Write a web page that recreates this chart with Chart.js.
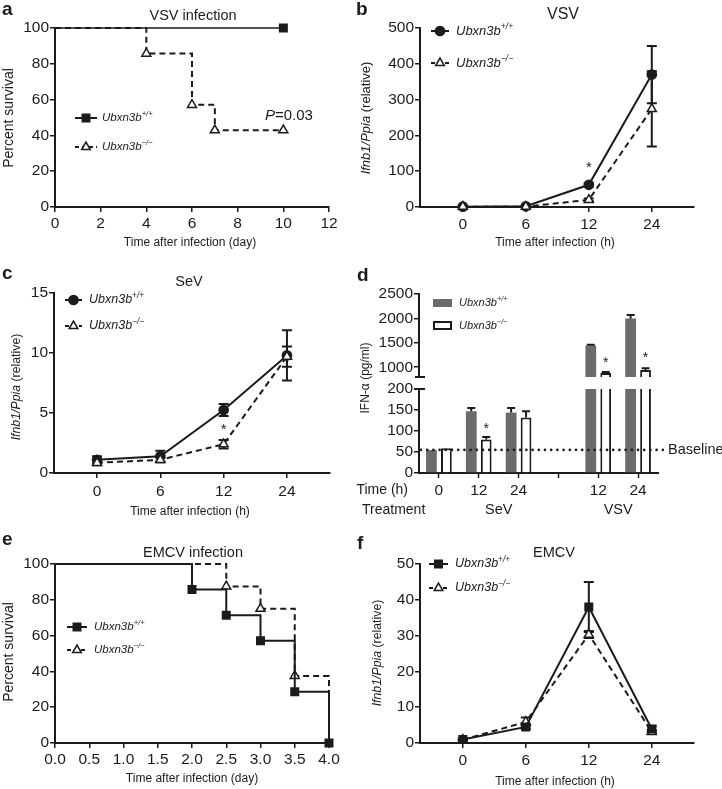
<!DOCTYPE html>
<html><head><meta charset="utf-8">
<script src="https://cdn.jsdelivr.net/npm/chart.js@4/dist/chart.umd.min.js"></script>
<style>
html,body{margin:0;padding:0;background:#fff}
body{position:relative;width:722px;height:789px;overflow:hidden}
canvas{position:absolute;display:block}
</style></head>
<body>
<canvas id="cA"></canvas><canvas id="cB"></canvas><canvas id="cC"></canvas>
<canvas id="cDtop"></canvas><canvas id="cDlow"></canvas><canvas id="cE"></canvas><canvas id="cF"></canvas>
<script>
// ---------------- data ----------------
const geneName = 'Ubxn3b';
const supWT = '+/+';
const supKO = '\u2212/\u2212';

// a: VSV infection survival
const aDaysWT = [0, 10];
const aSurvWT = [100, 100];
const aDaysKO = [0, 4, 6, 7, 10];
const aSurvKO = [100, 85.7, 57.1, 42.9, 42.9];
const aXTicks = [0, 2, 4, 6, 8, 10, 12];
const aYTicks = [0, 20, 40, 60, 80, 100];

// b: VSV Ifnb1/Ppia
const hours = ['0', '6', '12', '24'];
const bWT = [1, 2, 62, 370];
const bWTerr = [0.5, 1, 5, 80];
const bKO = [1, 1, 20, 274];
const bKOerr = [0.5, 1, 4, 105];
const bStar = [null, null, 108, null];
const bYTicks = [0, 100, 200, 300, 400, 500];

// c: SeV Ifnb1/Ppia
const cWT = [1.1, 1.4, 5.25, 9.8];
const cWTerr = [0.3, 0.45, 0.5, 2.1];
const cKO = [0.85, 1.1, 2.4, 9.7];
const cKOerr = [0.2, 0.2, 0.35, 0.85];
const cStar = [null, null, 3.6, null];
const cYTicks = [0, 5, 10, 15];

// d: IFN-alpha (pg/ml), broken axis
const dCats = ['0', '12', '24', '', '12', '24'];
const dWT = [55, 147, 144, null, 1445, 2000];
const dWTerr = [0, 8, 11, null, 15, 70];
const dKO = [59, 80, 132, null, 880, 945];
const dKOerr = [0, 6, 15, null, 20, 35];
const dStar = [null, 105, null, null, 1085, 1190];
const dTopTicks = [1000, 1500, 2000, 2500];
const dLowTicks = [0, 50, 100, 150, 200];
const dBaseline = 55;
const dTreatments = [{name: 'SeV', cats: [1, 2]}, {name: 'VSV', cats: [4, 5]}];

// e: EMCV infection survival
const eDaysWT = [0, 2, 2.5, 3, 3.5, 4];
const eSurvWT = [100, 85.7, 71.4, 57.1, 28.6, 0];
const eDaysKO = [0, 2.5, 3, 3.5, 4];
const eSurvKO = [100, 87.5, 75, 37.5, 0];
const eXTicks = [0, 0.5, 1, 1.5, 2, 2.5, 3, 3.5, 4];
const eYTicks = [0, 20, 40, 60, 80, 100];

// f: EMCV Ifnb1/Ppia
const fWT = [1.0, 4.5, 38, 3.9];
const fWTerr = [0.3, 0.6, 7, 0.8];
const fKO = [0.9, 5.9, 30.3, 3.1];
const fKOerr = [0.2, 1.2, 1, 0.5];
const fYTicks = [0, 10, 20, 30, 40, 50];

// ---------------- helpers ----------------
const INK = '#1b1b1b';
const GREY = '#6b6b6b';
const FONT = '"Liberation Sans", Arial, Helvetica, sans-serif';
Chart.defaults.font.family = FONT;
Chart.defaults.color = INK;

function fontStr(s) { return (s.italic ? 'italic ' : '') + (s.bold ? 'bold ' : '') + s.size + 'px ' + FONT; }

function rich(ctx, segs, x, y, align, rot) {
  ctx.save();
  ctx.translate(x, y);
  if (rot) ctx.rotate(rot);
  let total = 0;
  segs.forEach(s => { ctx.font = fontStr(s); s.w = ctx.measureText(s.t).width; total += s.w; });
  let cx = align === 'center' ? -total / 2 : (align === 'right' ? -total : 0);
  ctx.textBaseline = 'middle'; ctx.textAlign = 'left'; ctx.fillStyle = INK;
  segs.forEach(s => { ctx.font = fontStr(s); ctx.fillText(s.t, cx, s.dy || 0); cx += s.w; });
  ctx.restore();
}
function txt(ctx, t, x, y, size, o) {
  o = o || {};
  rich(ctx, [{t: t, size: size, italic: o.italic, bold: o.bold}], x, y, o.align || 'center', o.rot);
}
function panelLetter(ctx, t, x, y) {
  ctx.save(); ctx.font = 'bold 19px ' + FONT; ctx.fillStyle = INK;
  ctx.textAlign = 'left'; ctx.textBaseline = 'alphabetic'; ctx.fillText(t, x, y); ctx.restore();
}
function genoLabel(sup, size) {
  return [{t: geneName, size: size, italic: true}, {t: sup, size: size * 0.66, italic: true, dy: -size * 0.33}];
}
function ifnbTitle(size) {
  return [{t: 'Ifnb1/Ppia', size: size, italic: true}, {t: ' (relative)', size: size}];
}
function marker(ctx, style, x, y, r, filled) {
  ctx.beginPath();
  if (style === 'circle') ctx.arc(x, y, r, 0, Math.PI * 2);
  else if (style === 'rect') { const s = r * Math.SQRT1_2; ctx.rect(x - s, y - s, 2 * s, 2 * s); }
  else {
    for (let k = 0; k < 3; k++) {
      const a = k * 2 * Math.PI / 3, px = x + Math.sin(a) * r, py = y - Math.cos(a) * r;
      if (k) ctx.lineTo(px, py); else ctx.moveTo(px, py);
    }
    ctx.closePath();
  }
  ctx.fillStyle = filled ? INK : '#fff'; ctx.fill();
  ctx.lineWidth = 1.5; ctx.strokeStyle = INK; ctx.stroke();
}
function legendLine(ctx, x0, x1, y, dashed, style, r, textX, sup, size) {
  ctx.save();
  ctx.strokeStyle = INK; ctx.lineWidth = 2;
  if (dashed) ctx.setLineDash([4, 3]);
  ctx.beginPath(); ctx.moveTo(x0, y); ctx.lineTo(x1, y); ctx.stroke();
  ctx.setLineDash([]);
  marker(ctx, style, (x0 + x1) / 2, y, r, !dashed);
  ctx.restore();
  rich(ctx, genoLabel(sup, size), textX, y, 'left');
}
function errBars(chart, dsIndex, vals, errs, cap, upperOnly, clip) {
  const ctx = chart.ctx, ys = chart.scales.y, meta = chart.getDatasetMeta(dsIndex), a = chart.chartArea;
  ctx.save();
  if (clip) { ctx.beginPath(); ctx.rect(a.left - 30, a.top - 1, a.right - a.left + 60, a.bottom - a.top + 2); ctx.clip(); }
  ctx.strokeStyle = INK; ctx.lineWidth = 2;
  meta.data.forEach((el, i) => {
    const e = errs[i], v = vals[i];
    if (!e || v === null || v === undefined) return;
    const x = el.x, yt = ys.getPixelForValue(v + e);
    const yb = ys.getPixelForValue(upperOnly ? v : v - e);
    ctx.beginPath();
    ctx.moveTo(x, yt); ctx.lineTo(x, yb);
    ctx.moveTo(x - cap / 2, yt); ctx.lineTo(x + cap / 2, yt);
    if (!upperOnly) { ctx.moveTo(x - cap / 2, yb); ctx.lineTo(x + cap / 2, yb); }
    ctx.stroke();
  });
  ctx.restore();
}
function stars(chart, dsIndex, pos, size) {
  const ctx = chart.ctx, ys = chart.scales.y, meta = chart.getDatasetMeta(dsIndex), a = chart.chartArea;
  meta.data.forEach((el, i) => {
    const v = pos[i];
    if (v === null || v === undefined) return;
    const y = ys.getPixelForValue(v);
    if (y < a.top - 2 || y > a.bottom) return;
    txt(ctx, '*', el.x, y, size);
  });
}
function linAxis(pos, min, max, tickVals, fmt, pad) {
  return {
    type: 'linear', position: pos, min: min, max: max,
    afterBuildTicks: s => { s.ticks = tickVals.map(v => ({value: v})); },
    grid: {drawOnChartArea: false, drawTicks: true, tickLength: 5, color: INK, tickColor: INK, tickWidth: 1.5, lineWidth: 1.5},
    border: {display: true, color: INK, width: 2},
    ticks: {color: INK, font: {size: 15.5}, padding: pad, autoSkip: false, maxRotation: 0, minRotation: 0,
      callback: fmt || (v => String(v))}
  };
}
function series(xs, ys, o) {
  return Object.assign({
    data: xs.map((x, i) => ({x: x, y: ys[i]})),
    borderColor: INK, borderWidth: 2, pointBorderColor: INK, pointBorderWidth: 1.5,
    pointHoverRadius: 0, fill: false, tension: 0, clip: false
  }, o);
}
function plug(id, box, hook, fn, page) {
  const p = {id: id};
  p[hook] = function (chart) {
    const ctx = chart.ctx; ctx.save();
    if (page) ctx.translate(-box.l, -box.t);
    fn(ctx, chart); ctx.restore();
  };
  return p;
}
function build(id, box, area, cfg, padBottom) {
  const cv = document.getElementById(id);
  cv.width = box.w; cv.height = box.h;
  Object.assign(cv.style, {left: box.l + 'px', top: box.t + 'px', width: box.w + 'px', height: box.h + 'px'});
  const o = cfg.options;
  o.responsive = false; o.animation = false; o.devicePixelRatio = 1;
  o.events = [];
  o.layout = {padding: {left: 0, top: area.y0 - box.t, right: box.l + box.w - area.x1, bottom: padBottom || 0}};
  o.plugins = {legend: {display: false}, tooltip: {enabled: false}};
  o.scales.y.afterFit = s => { s.width = area.x0 - box.l; };
  if (o.scales.x.display !== false) o.scales.x.afterFit = s => { s.height = box.t + box.h - area.y1; };
  return new Chart(cv, cfg);
}
const idx = hours.map((h, i) => i);
const hourFmt = v => hours[v];
const WTc = {pointStyle: 'circle', pointBackgroundColor: INK, pointRadius: 4.6};
const WTs = {pointStyle: 'rect', pointBackgroundColor: INK, pointRadius: 5.3};
const KOt = {pointStyle: 'triangle', pointBackgroundColor: '#fff', pointRadius: 5.2, borderDash: [6, 4]};

// ---------------- panel a ----------------
const boxA = {l: 0, t: 0, w: 361, h: 250}, areaA = {x0: 55, y0: 28, x1: 329, y1: 207};
build('cA', boxA, areaA, {
  type: 'line',
  data: {datasets: [
    series(aDaysWT, aSurvWT, Object.assign({}, WTs, {stepped: true, borderWidth: 1.6, pointRadius: aDaysWT.map((d, i) => i ? 5.3 : 0)})),
    series(aDaysKO, aSurvKO, Object.assign({}, KOt, {stepped: true, pointRadius: aDaysKO.map((d, i) => i ? 5.2 : 0)}))
  ]},
  options: {scales: {x: linAxis('bottom', 0, 12, aXTicks, null, 2), y: linAxis('left', 0, 100, aYTicks, null, 1)}},
  plugins: [plug('decoA', boxA, 'afterDraw', ctx => {
    panelLetter(ctx, 'a', 2, 15);
    txt(ctx, 'VSV infection', 193, 16, 14.5);
    txt(ctx, 'Percent survival', 9, 118, 14, {rot: -Math.PI / 2});
    txt(ctx, 'Time after infection (day)', 190, 243, 12);
    legendLine(ctx, 75, 97, 118, false, 'rect', 5.3, 102, supWT, 11.5);
    legendLine(ctx, 75, 97, 147, true, 'triangle', 5, 102, supKO, 11.5);
    rich(ctx, [{t: 'P', size: 15, italic: true}, {t: '=0.03', size: 15}], 265, 116, 'left');
  }, true)]
});

// ---------------- panel b ----------------
const boxB = {l: 350, t: 0, w: 372, h: 250}, areaB = {x0: 420, y0: 28, x1: 694, y1: 207};
build('cB', boxB, areaB, {
  type: 'line',
  data: {datasets: [
    series(idx, bKO, KOt),
    series(idx, bWT, WTc)
  ]},
  options: {scales: {x: linAxis('bottom', -0.68, 3.67, idx, hourFmt, 3), y: linAxis('left', 0, 500, bYTicks, null, 1)}},
  plugins: [
    plug('errB', boxB, 'beforeDatasetsDraw', (ctx, ch) => { errBars(ch, 1, bWT, bWTerr, 10); errBars(ch, 0, bKO, bKOerr, 10); }),
    plug('starB', boxB, 'afterDatasetsDraw', (ctx, ch) => { stars(ch, 1, bStar, 15); }),
    plug('decoB', boxB, 'afterDraw', ctx => {
      panelLetter(ctx, 'b', 356, 15);
      txt(ctx, 'VSV', 563, 15, 16);
      rich(ctx, ifnbTitle(13), 366, 118, 'center', -Math.PI / 2);
      txt(ctx, 'Time after infection (h)', 555, 243, 12);
      legendLine(ctx, 431, 449, 31, false, 'circle', 4.6, 456, supWT, 13);
      legendLine(ctx, 431, 449, 63, true, 'triangle', 5, 456, supKO, 13);
    }, true)]
});

// ---------------- panel c ----------------
const boxC = {l: 0, t: 250, w: 361, h: 270}, areaC = {x0: 54, y0: 293, x1: 330, y1: 473};
build('cC', boxC, areaC, {
  type: 'line',
  data: {datasets: [
    series(idx, cKO, KOt),
    series(idx, cWT, WTc)
  ]},
  options: {scales: {x: linAxis('bottom', -0.68, 3.68, idx, hourFmt, 4), y: linAxis('left', 0, 15, cYTicks, null, 1)}},
  plugins: [
    plug('errC', boxC, 'beforeDatasetsDraw', (ctx, ch) => { errBars(ch, 1, cWT, cWTerr, 10); errBars(ch, 0, cKO, cKOerr, 10); }),
    plug('starC', boxC, 'afterDatasetsDraw', (ctx, ch) => { stars(ch, 1, cStar, 15); }),
    plug('decoC', boxC, 'afterDraw', ctx => {
      panelLetter(ctx, 'c', 2, 279);
      txt(ctx, 'SeV', 189, 282, 14.5);
      rich(ctx, ifnbTitle(12.3), 17, 387, 'center', -Math.PI / 2);
      txt(ctx, 'Time after infection (h)', 190, 512, 12);
      legendLine(ctx, 65, 82, 300, false, 'circle', 4.6, 89, supWT, 12.5);
      legendLine(ctx, 65, 82, 326, true, 'triangle', 5, 89, supKO, 12.5);
    }, true)]
});

// ---------------- panel d (broken axis: two stacked charts) ----------------
function barSets() {
  return [
    {data: dWT, backgroundColor: GREY, borderWidth: 0, categoryPercentage: 0.75, barPercentage: 0.72, clip: 0},
    {data: dKO, backgroundColor: '#fff', borderColor: INK, borderWidth: 2, categoryPercentage: 0.75, barPercentage: 0.72, clip: 0}
  ];
}
const boxDt = {l: 340, t: 250, w: 382, h: 140}, areaDt = {x0: 419, y0: 294, x1: 658, y1: 377};
build('cDtop', boxDt, areaDt, {
  type: 'bar',
  data: {labels: dCats, datasets: barSets()},
  options: {scales: {
    x: {type: 'category', display: false, offset: true},
    y: linAxis('left', 800, 2500, dTopTicks, null, 1)
  }},
  plugins: [
    plug('errDt', boxDt, 'afterDatasetsDraw', (ctx, ch) => {
      errBars(ch, 0, dWT, dWTerr, 8, true, true); errBars(ch, 1, dKO, dKOerr, 8, true, true);
      stars(ch, 1, dStar, 14);
      const a = ch.chartArea;
      ctx.strokeStyle = INK; ctx.lineWidth = 2;
      ctx.beginPath(); ctx.moveTo(a.left - 4, a.bottom); ctx.lineTo(a.left + 6, a.bottom); ctx.stroke();
    }),
    plug('decoDt', boxDt, 'afterDraw', ctx => {
      ctx.fillStyle = GREY; ctx.fillRect(433, 299, 19, 8);
      ctx.strokeStyle = INK; ctx.lineWidth = 2; ctx.strokeRect(434, 322, 17, 7);
      rich(ctx, genoLabel(supWT, 11), 459, 303, 'left');
      rich(ctx, genoLabel(supKO, 11), 459, 326, 'left');
    }, true)
  ]
}, 390 - 377);

const boxDl = {l: 340, t: 250, w: 382, h: 270}, areaDl = {x0: 419, y0: 389, x1: 658, y1: 473};
build('cDlow', boxDl, areaDl, {
  type: 'bar',
  data: {labels: dCats, datasets: barSets()},
  options: {scales: {
    x: {type: 'category', position: 'bottom', offset: true,
      grid: {offset: false, drawOnChartArea: false, drawTicks: true, tickLength: 5, color: INK, tickColor: INK, tickWidth: 1.5},
      border: {display: true, color: INK, width: 2},
      ticks: {color: INK, font: {size: 15.5}, padding: 3, autoSkip: false, maxRotation: 0}},
    y: linAxis('left', 0, 200, dLowTicks, null, 1)
  }},
  plugins: [
    plug('errDl', boxDl, 'afterDatasetsDraw', (ctx, ch) => {
      errBars(ch, 0, dWT, dWTerr, 8, true, true); errBars(ch, 1, dKO, dKOerr, 8, true, true);
      stars(ch, 1, dStar, 14);
      const a = ch.chartArea, yb = ch.scales.y.getPixelForValue(dBaseline);
      ctx.save();
      ctx.strokeStyle = INK; ctx.lineWidth = 2.6; ctx.lineCap = 'round'; ctx.setLineDash([0, 6.2]);
      ctx.beginPath(); ctx.moveTo(a.left + 2, yb); ctx.lineTo(a.right + 6, yb); ctx.stroke();
      ctx.restore();
      ctx.strokeStyle = INK; ctx.lineWidth = 2;
      ctx.beginPath(); ctx.moveTo(a.left - 5, a.top); ctx.lineTo(a.left + 6, a.top); ctx.stroke();
      txt(ctx, 'Baseline', a.right + 10, yb, 14.5, {align: 'left'});
      const xs = ch.scales.x, ty = a.bottom + 37;
      dTreatments.forEach(t => {
        const x = (xs.getPixelForValue(t.cats[0]) + xs.getPixelForValue(t.cats[1])) / 2;
        txt(ctx, t.name, x, ty, 14.5);
      });
    }),
    plug('decoDl', boxDl, 'afterDraw', ctx => {
      panelLetter(ctx, 'd', 357, 281);
      txt(ctx, 'IFN-\u03b1 (pg/ml)', 366, 378, 12, {rot: -Math.PI / 2});
      txt(ctx, 'Time (h)', 408, 490, 14, {align: 'right'});
      txt(ctx, 'Treatment', 362, 510, 14, {align: 'left'});
    }, true)
  ]
});

// ---------------- panel e ----------------
const boxE = {l: 0, t: 520, w: 361, h: 269}, areaE = {x0: 55, y0: 564, x1: 329, y1: 743};
build('cE', boxE, areaE, {
  type: 'line',
  data: {datasets: [
    series(eDaysWT, eSurvWT, Object.assign({}, WTs, {stepped: true, pointRadius: eDaysWT.map((d, i) => i ? 5.3 : 0)})),
    series(eDaysKO, eSurvKO, Object.assign({}, KOt, {stepped: true, pointRadius: eDaysKO.map((d, i) => (i && i < eDaysKO.length - 1) ? 5.2 : 0)}))
  ]},
  options: {scales: {x: linAxis('bottom', 0, 4, eXTicks, v => v.toFixed(1), 2), y: linAxis('left', 0, 100, eYTicks, null, 1)}},
  plugins: [plug('decoE', boxE, 'afterDraw', ctx => {
    panelLetter(ctx, 'e', 2, 545);
    txt(ctx, 'EMCV infection', 193, 553, 14.5);
    txt(ctx, 'Percent survival', 9, 652, 14, {rot: -Math.PI / 2});
    txt(ctx, 'Time after infection (day)', 192, 779, 12);
    legendLine(ctx, 67, 87, 627, false, 'rect', 5.3, 94, supWT, 11.5);
    legendLine(ctx, 67, 87, 650, true, 'triangle', 5, 94, supKO, 11.5);
  }, true)]
});

// ---------------- panel f ----------------
const boxF = {l: 350, t: 520, w: 372, h: 269}, areaF = {x0: 420, y0: 564, x1: 694, y1: 743};
build('cF', boxF, areaF, {
  type: 'line',
  data: {datasets: [
    series(idx, fWT, WTs),
    series(idx, fKO, KOt)
  ]},
  options: {scales: {x: linAxis('bottom', -0.68, 3.67, idx, hourFmt, 3), y: linAxis('left', 0, 50, fYTicks, null, 1)}},
  plugins: [
    plug('errF', boxF, 'beforeDatasetsDraw', (ctx, ch) => { errBars(ch, 0, fWT, fWTerr, 10); errBars(ch, 1, fKO, fKOerr, 10); }),
    plug('decoF', boxF, 'afterDraw', ctx => {
      panelLetter(ctx, 'f', 357, 549);
      txt(ctx, 'EMCV', 554, 553, 14.5);
      rich(ctx, ifnbTitle(12.3), 378, 653, 'center', -Math.PI / 2);
      txt(ctx, 'Time after infection (h)', 555, 782, 12);
      legendLine(ctx, 429, 448, 564, false, 'rect', 5.3, 455, supWT, 12.5);
      legendLine(ctx, 429, 448, 588, true, 'triangle', 5, 455, supKO, 12.5);
    }, true)]
});
</script>
</body></html>
